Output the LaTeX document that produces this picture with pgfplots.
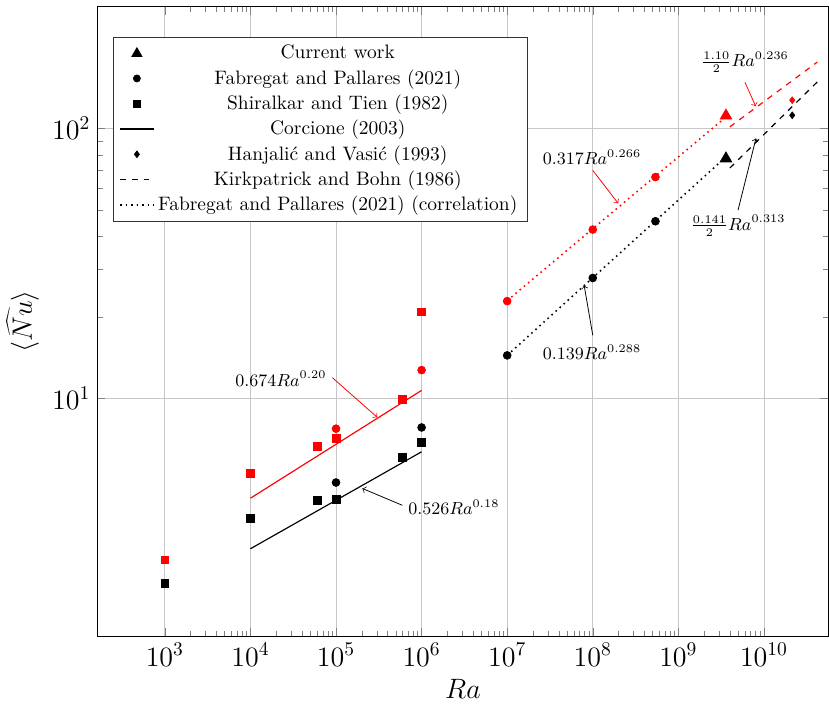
\documentclass[border=0pt]{standalone}
\usepackage{pgfplots}
\pgfplotsset{compat=1.18}
\begin{document}
\begin{tikzpicture}
\begin{axis}[
  name=ax,
  scale only axis,
  width=376pt, height=324pt,
  xmode=log, ymode=log,
  xmin=162, xmax=5.7e10,
  ymin=1.304, ymax=284.5,
  xtick={1e3,1e4,1e5,1e6,1e7,1e8,1e9,1e10},
  ytick={10,100},
  grid=major,
  major grid style={thin, black!22},
  tick label style={font=\Large},
  label style={font=\Large},
  xlabel={$Ra$},
  ylabel={$\langle\widehat{Nu}\rangle$},
  legend cell align=center,
  legend style={at={(0.022,0.951)}, anchor=north west, draw=black!80},
]
% Shiralkar and Tien (squares)
\addplot[only marks, mark=square*, red, mark size=2pt, forget plot] coordinates {
 (1e3,2.51) (1e4,5.24) (6e4,6.62) (1e5,7.09) (6e5,9.92) (1e6,20.9)};
\addplot[only marks, mark=square*, black, mark size=2pt, forget plot] coordinates {
 (1e3,2.05) (1e4,3.58) (6e4,4.16) (1e5,4.20) (6e5,6.04) (1e6,6.83)};
% Fabregat and Pallares (circles)
\addplot[only marks, mark=*, red, mark size=2pt, forget plot] coordinates {
 (1e5,7.70) (1e6,12.7) (1e7,22.9) (1e8,42.2) (5.4e8,66.1)};
\addplot[only marks, mark=*, black, mark size=2pt, forget plot] coordinates {
 (1e5,4.86) (1e6,7.78) (1e7,14.4) (1e8,27.9) (5.4e8,45.3)};
% Current work (triangles)
\addplot[only marks, mark=triangle*, red, mark size=3.4pt, forget plot] coordinates {(3.6e9,111.6)};
\addplot[only marks, mark=triangle*, black, mark size=3.4pt, forget plot] coordinates {(3.6e9,77.4)};
% Hanjalic and Vasic (diamonds)
\addplot[only marks, mark=diamond*, red, mark size=1.7pt, forget plot] coordinates {(2.14e10,127.4)};
\addplot[only marks, mark=diamond*, black, mark size=1.7pt, forget plot] coordinates {(2.14e10,112)};
% Corcione (solid)
\addplot[red, semithick, forget plot] coordinates {(1e4,4.25) (1e6,10.68)};
\addplot[black, semithick, forget plot] coordinates {(1e4,2.76) (1e6,6.32)};
% Fabregat correlation (dotted)
\addplot[red, dotted, thick, forget plot] coordinates {(1e7,23.0) (3.3e9,107.9)};
\addplot[black, dotted, thick, forget plot] coordinates {(1e7,14.4) (3.3e9,76.6)};
% Kirkpatrick and Bohn (dashed)
\addplot[red, dashed, semithick, forget plot] coordinates {(4e9,101.5) (4.2e10,176.5)};
\addplot[black, dashed, semithick, forget plot] coordinates {(4e9,71.4) (4.2e10,149)};

% legend
\addlegendimage{only marks, mark=triangle*, black, mark size=3pt}
\addlegendentry{Current work}
\addlegendimage{only marks, mark=*, black, mark size=1.8pt}
\addlegendentry{Fabregat and Pallares (2021)}
\addlegendimage{only marks, mark=square*, black, mark size=1.8pt}
\addlegendentry{Shiralkar and Tien (1982)}
\addlegendimage{black, semithick}
\addlegendentry{Corcione (2003)}
\addlegendimage{only marks, mark=diamond*, black, mark size=1.7pt}
\addlegendentry{Hanjali\'c and Vasi\'c (1993)}
\addlegendimage{black, dashed, semithick}
\addlegendentry{Kirkpatrick and Bohn (1986)}
\addlegendimage{black, dotted, thick}
\addlegendentry{Fabregat and Pallares (2021) (correlation)}

% annotations
\begin{scope}[every node/.style={font=\small}]
\node at (axis cs:2.27e4,11.8) {$0.674Ra^{0.20}$};
\draw[red,->] (axis cs:9.08e4,11.9) -- (axis cs:3.04e5,8.48);
\node at (axis cs:2.38e6,3.93) {$0.526Ra^{0.18}$};
\draw[black,->] (axis cs:5.96e5,4.0) -- (axis cs:2.03e5,4.62);
\node at (axis cs:9.8e7,78.3) {$0.317Ra^{0.266}$};
\draw[red,->] (axis cs:1e8,70.0) -- (axis cs:1.98e8,52.8);
\node at (axis cs:9.8e7,14.8) {$0.139Ra^{0.288}$};
\draw[black,->] (axis cs:1e8,17.1) -- (axis cs:7.93e7,26.2);
\node at (axis cs:6.0e9,176) {$\frac{1.10}{2}Ra^{0.236}$};
\draw[red,->] (axis cs:6.0e9,148.6) -- (axis cs:8.0e9,121);
\node at (axis cs:4.98e9,43.6) {$\frac{0.141}{2}Ra^{0.313}$};
\draw[black,->] (axis cs:4.98e9,49.8) -- (axis cs:8.07e9,92.0);
\end{scope}
\end{axis}
\path ([yshift=3.2pt]ax.north) -- ++(0,0);
\end{tikzpicture}
\end{document}
